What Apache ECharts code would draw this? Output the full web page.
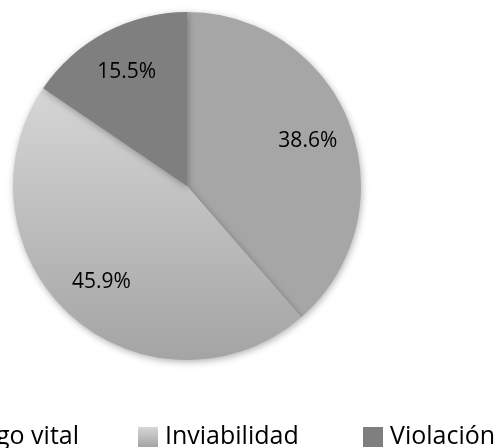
<!DOCTYPE html>
<html><head><meta charset="utf-8">
<script src="https://cdn.jsdelivr.net/npm/echarts@6/dist/echarts.min.js"></script>
<style>html,body{margin:0;padding:0;background:#fff}#c{width:502px;height:448px}</style>
</head><body><div id="c"></div>
<script>
var categories = ['Riesgo vital', 'Inviabilidad', 'Violación'];
var values = [38.6, 45.9, 15.5];
var colors = ['#a6a6a6', null, '#7f7f7f'];

var chart = echarts.init(document.getElementById('c'));
var fontFam = '"Open Sans", Lato, sans-serif';
var inviabGrad = new echarts.graphic.LinearGradient(0, 0, 0, 1, [
  {offset: 0, color: '#d6d6d6'}, {offset: 1, color: '#a4a4a4'}
]);
function itemColor(i){ return i === 1 ? inviabGrad : colors[i]; }
var data = categories.map(function(c, i){
  return {name: c, value: values[i], itemStyle: {color: itemColor(i)}};
});
var labelData = categories.map(function(c, i){
  return {name: c, value: values[i]};
});
function mkLegend(name, pos){
  return Object.assign({
    top: 424, padding: 0, itemWidth: 20, itemHeight: 20, icon: 'rect',
    textStyle: {fontFamily: fontFam, fontSize: 25, lineHeight: 26, color: '#000', padding: [0, 0, 0, 2]},
    data: [name]
  }, pos);
}
chart.setOption({
  animation: false,
  legend: [
    mkLegend(categories[0], {right: 423}),
    mkLegend(categories[1], {left: 138}),
    mkLegend(categories[2], {left: 363})
  ],
  series: [{
    type: 'pie', center: [187, 186], radius: [0, 174],
    startAngle: 90, clockwise: true,
    label: {show: false}, labelLine: {show: false},
    itemStyle: {shadowBlur: 7, shadowColor: 'rgba(0,0,0,0.3)', shadowOffsetX: 1, shadowOffsetY: 2},
    data: data
  }, {
    type: 'pie', center: [187, 186], radius: [100, 152],
    startAngle: 90, clockwise: true, silent: true,
    itemStyle: {color: 'rgba(0,0,0,0)'},
    legendHoverLink: false,
    label: {show: true, position: 'inside', fontFamily: fontFam, fontSize: 21, color: '#000',
      formatter: function(p){ return p.value.toFixed(1) + '%'; }},
    labelLine: {show: false},
    data: labelData
  }]
});
</script></body></html>
